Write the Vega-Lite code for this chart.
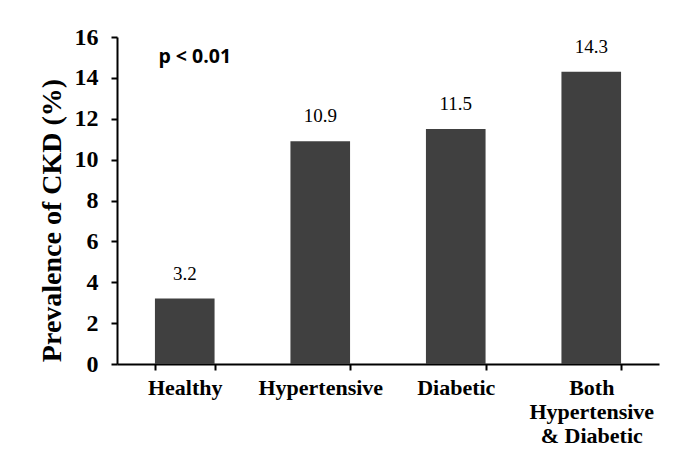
{
  "$schema": "https://vega.github.io/schema/vega-lite/v6.json",
  "width": 542,
  "height": 327,
  "autosize": "none",
  "padding": {"left": 117, "top": 37, "right": 26, "bottom": 100},
  "background": "white",
  "config": {"view": {"stroke": null}},
  "data": {"values": [
    {"group": "Healthy", "value": 3.2},
    {"group": "Hypertensive", "value": 10.9},
    {"group": "Diabetic", "value": 11.5},
    {"group": "Both Hypertensive & Diabetic", "value": 14.3}
  ]},
  "layer": [
    {
      "mark": {"type": "bar", "color": "#404040"},
      "encoding": {
        "x": {"field": "group", "type": "nominal", "sort": null,
          "scale": {"paddingInner": 0.56, "paddingOuter": 0.28},
          "axis": {"title": null, "labelAngle": 0, "labelFont": "Liberation Serif", "labelFontWeight": "bold", "labelFontSize": 22, "labelColor": "black",
            "labelExpr": "datum.value == 'Both Hypertensive & Diabetic' ? ['Both', 'Hypertensive', '& Diabetic'] : datum.value",
            "labelPadding": 7, "labelLineHeight": 24, "tickBand": "extent", "tickColor": "black", "tickSize": 6, "tickWidth": 2, "domainColor": "black", "domainWidth": 2}},
        "y": {"field": "value", "type": "quantitative",
          "scale": {"domain": [0, 16]},
          "axis": {"title": "Prevalence of CKD (%)", "titleFont": "Liberation Serif", "titleFontWeight": "bold", "titleFontSize": 28, "titleColor": "black", "titlePadding": 8, "titleY": 183,
            "values": [0, 2, 4, 6, 8, 10, 12, 14, 16], "grid": false, "labelFont": "Liberation Serif", "labelFontWeight": "bold", "labelFontSize": 24, "labelColor": "black", "labelPadding": 13,
            "tickColor": "black", "tickSize": 6, "tickWidth": 2, "domainColor": "black", "domainWidth": 2}}
      }
    },
    {
      "mark": {"type": "text", "font": "Liberation Serif", "fontSize": 19, "baseline": "alphabetic", "dy": -19, "color": "black"},
      "encoding": {
        "x": {"field": "group", "type": "nominal", "sort": null},
        "y": {"field": "value", "type": "quantitative"},
        "text": {"field": "value", "type": "quantitative", "format": ".1f"}
      }
    },
    {
      "data": {"values": [{"group": "Healthy", "label": "p < 0.01", "y": 15}]},
      "mark": {"type": "text", "font": "Open Sans", "fontWeight": "bold", "fontSize": 19.5, "baseline": "middle", "dx": 10, "color": "black"},
      "encoding": {
        "x": {"field": "group", "type": "nominal", "sort": null},
        "y": {"field": "y", "type": "quantitative"},
        "text": {"field": "label", "type": "nominal"}
      }
    }
  ]
}
